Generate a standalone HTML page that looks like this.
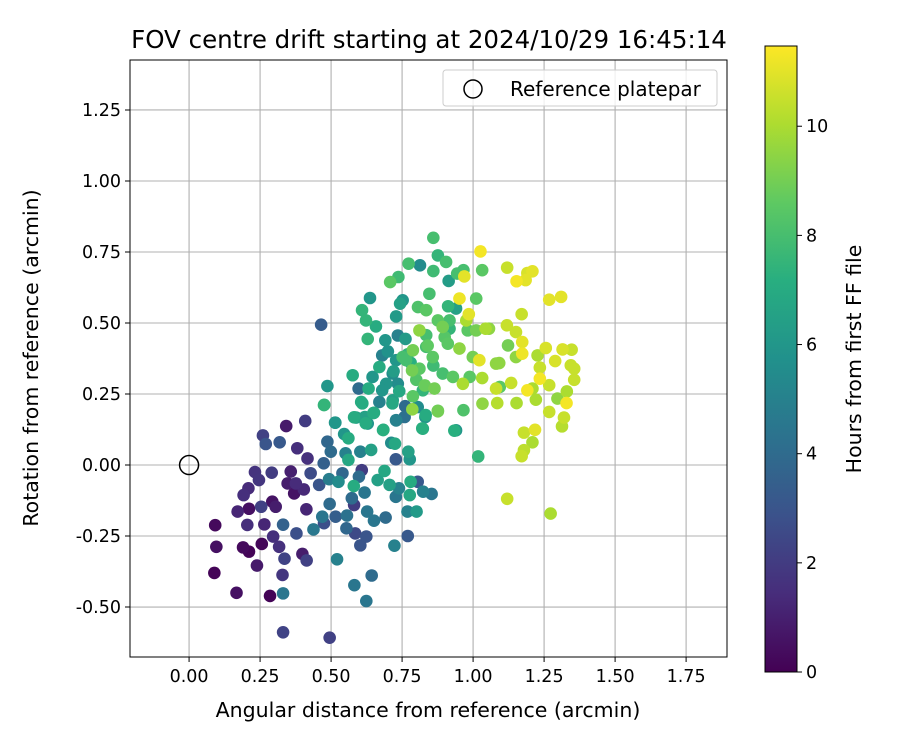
<!DOCTYPE html>
<html><head><meta charset="utf-8"><style>
body{margin:0;background:#fff;}
svg text{font-family:"DejaVu Sans","Liberation Sans",sans-serif;fill:#000;}
</style></head><body>
<svg id="chart" width="900" height="750" viewBox="0 0 900 750" xmlns="http://www.w3.org/2000/svg">
<defs><linearGradient id="vir" x1="0" y1="1" x2="0" y2="0">
<stop offset="0" stop-color="#440154"/><stop offset="0.125" stop-color="#472d7b"/><stop offset="0.25" stop-color="#3b528b"/><stop offset="0.375" stop-color="#2c728e"/><stop offset="0.5" stop-color="#21918c"/><stop offset="0.625" stop-color="#28ae80"/><stop offset="0.75" stop-color="#5ec962"/><stop offset="0.875" stop-color="#addc30"/><stop offset="1" stop-color="#fde725"/></linearGradient></defs>
<text x="429" y="48" text-anchor="middle" font-size="24.5">FOV centre drift starting at 2024/10/29 16:45:14</text>
<g id="grid"></g><g id="points"></g><g id="axes"></g>
<text x="428" y="717" text-anchor="middle" font-size="20.5">Angular distance from reference (arcmin)</text>
<text transform="translate(38,358) rotate(-90)" text-anchor="middle" font-size="20.5">Rotation from reference (arcmin)</text>
<g>
<rect x="443" y="70" width="274" height="36" rx="3" fill="#fff" fill-opacity="0.8" stroke="#ccc"/>
<circle cx="473" cy="89" r="9" fill="none" stroke="#000" stroke-width="1.5"/>
<text x="510" y="96" font-size="20">Reference platepar</text></g>
<rect x="765" y="46" width="32" height="626" fill="url(#vir)" stroke="#000" stroke-width="1"/>
<g id="cbticks"></g>
<text transform="translate(861,359) rotate(-90)" text-anchor="middle" font-size="20.5">Hours from first FF file</text>
</svg>
<script>
const xTicks=[0,0.25,0.5,0.75,1,1.25,1.5,1.75];
const yTicks=[-0.5,-0.25,0,0.25,0.5,0.75,1,1.25];
const cbTicks=[0,2,4,6,8,10];
const xs=[0.092,0.096,0.089,0.167,0.285,0.331,0.331,0.495,0.239,0.329,0.19,0.211,0.256,0.171,0.211,0.205,0.192,0.209,0.232,0.246,0.291,0.254,0.293,0.305,0.265,0.331,0.296,0.317,0.336,0.378,0.399,0.414,0.413,0.358,0.347,0.370,0.376,0.404,0.381,0.417,0.342,0.409,0.260,0.270,0.319,0.428,0.458,0.474,0.487,0.499,0.493,0.526,0.495,0.469,0.438,0.516,0.475,0.556,0.554,0.585,0.603,0.624,0.521,0.582,0.643,0.624,0.540,0.580,0.573,0.581,0.618,0.598,0.608,0.627,0.651,0.692,0.723,0.770,0.664,0.688,0.706,0.728,0.739,0.777,0.780,0.805,0.824,0.854,0.769,0.801,0.728,0.772,0.777,0.725,0.712,0.641,0.603,0.551,0.561,0.561,0.546,0.514,0.475,0.581,0.610,0.651,0.622,0.683,0.729,0.786,0.821,0.833,0.876,0.934,0.716,
0.860,0.876,0.905,0.773,0.813,0.860,0.737,0.708,0.914,0.944,0.966,0.969,1.032,1.026,0.637,0.609,0.752,0.743,0.729,0.846,0.806,0.835,0.912,0.952,0.940,1.011,0.985,0.976,0.917,0.876,0.893,0.811,0.835,0.917,0.981,1.011,1.044,0.623,0.658,0.629,0.691,0.735,0.762,0.680,0.752,0.788,0.835,0.858,0.911,0.952,1.022,0.999,1.081,1.032,1.081,0.988,0.964,0.929,0.893,0.864,0.823,0.811,0.785,0.764,0.729,0.717,0.735,0.694,0.670,0.646,0.632,0.680,0.597,0.576,0.487,0.465,0.788,0.876,0.966,0.940,1.018,0.823,0.832,0.729,0.759,0.684,0.649,0.619,0.629,0.606,0.588,0.515,0.476,0.670,0.717,0.761,0.805,
1.120,1.191,1.209,1.153,1.185,1.268,1.310,1.171,1.119,1.151,1.056,1.173,1.123,1.173,1.256,1.315,1.347,1.227,1.289,1.344,1.356,1.235,1.356,1.235,1.268,1.134,1.094,1.092,1.151,1.191,1.209,1.221,1.297,1.330,1.329,1.153,1.085,1.033,1.268,1.320,1.313,1.179,1.218,1.209,1.179,1.171,1.120,1.273,
0.70,0.72,0.78,0.80,0.84,0.86,0.90,0.74,0.77,0.83];
const ys=[-0.212,-0.288,-0.380,-0.450,-0.461,-0.452,-0.589,-0.608,-0.354,-0.387,-0.290,-0.305,-0.278,-0.164,-0.154,-0.211,-0.106,-0.082,-0.025,-0.053,-0.027,-0.147,-0.129,-0.147,-0.209,-0.210,-0.252,-0.288,-0.330,-0.241,-0.313,-0.336,-0.156,-0.023,-0.065,-0.100,-0.065,-0.086,0.059,0.023,0.137,0.155,0.104,0.074,0.080,-0.029,-0.070,0.006,0.082,0.047,-0.050,-0.059,-0.137,-0.182,-0.227,-0.182,-0.205,-0.178,-0.223,-0.241,-0.283,-0.252,-0.332,-0.423,-0.389,-0.479,-0.029,-0.074,-0.117,-0.141,-0.097,-0.041,-0.018,-0.164,-0.196,-0.185,-0.284,-0.250,-0.053,-0.021,-0.070,-0.112,-0.082,-0.106,-0.059,-0.059,-0.094,-0.102,-0.164,-0.164,0.020,0.047,0.020,0.075,0.078,0.053,0.047,0.041,0.018,0.094,0.109,0.149,0.211,0.168,0.217,0.184,0.147,0.123,0.158,0.196,0.129,0.176,0.191,0.121,0.217,
0.800,0.738,0.715,0.709,0.703,0.683,0.662,0.644,0.648,0.674,0.686,0.664,0.686,0.752,0.588,0.545,0.580,0.568,0.523,0.603,0.556,0.545,0.559,0.586,0.551,0.586,0.531,0.509,0.509,0.509,0.486,0.474,0.457,0.480,0.474,0.474,0.480,0.509,0.488,0.444,0.439,0.456,0.444,0.386,0.380,0.404,0.416,0.380,0.427,0.410,0.369,0.380,0.357,0.306,0.269,0.310,0.286,0.310,0.322,0.269,0.263,0.339,0.333,0.369,0.369,0.322,0.286,0.286,0.345,0.310,0.269,0.263,0.269,0.316,0.278,0.494,0.242,0.189,0.193,0.122,0.030,0.128,0.169,0.157,0.169,0.124,0.183,0.169,0.146,0.222,0.167,0.149,0.212,0.222,0.228,0.207,0.204,
0.695,0.676,0.682,0.647,0.651,0.582,0.592,0.531,0.492,0.468,0.480,0.433,0.421,0.392,0.412,0.407,0.406,0.386,0.366,0.351,0.339,0.343,0.300,0.304,0.281,0.289,0.275,0.359,0.380,0.263,0.269,0.230,0.234,0.259,0.218,0.218,0.218,0.216,0.187,0.167,0.136,0.114,0.124,0.080,0.052,0.031,-0.119,-0.171,
0.40,0.33,0.36,0.30,0.42,0.35,0.45,0.26,0.39,0.28];
const hours=[0.3,0.5,0.1,0.5,0.1,4.5,2.3,2.2,0.8,1.8,0.3,0.1,0.2,1.2,0.5,1.5,1.5,1.4,1.7,1.8,2,2.2,0.6,0.9,1.2,3.6,1.5,1.6,2.3,2.8,0.9,2.2,1.2,1,0.9,0.6,1.4,1.3,1.5,1.6,0.8,2,2.2,3,3.2,2.6,3,3.5,3.8,4,4.8,5.5,4,4.5,4.6,3.4,2.8,4.3,3.8,2.5,3,3,5,4.5,4,4.5,3.8,7,4,2,4.5,4,2,4.5,4.5,4,5,3.2,6.5,6.8,6.5,4.5,5,6.8,7,3.2,5,4.5,5,6.2,3.2,6.5,6,6.8,5.5,6.5,5,5,6.8,7,6,6,7.5,7,7,7,7,7.2,5,9.5,7.2,7,8.8,7.2,6.8,
8,7.5,8,8,5.5,7.8,7.8,8.5,6.3,8,8,11,8.5,11.3,6,7.5,6,6.5,6.2,8,8.2,8.5,7.5,11.2,6.5,8.5,11,10,8,8.5,9,9.5,8,7.5,8.5,9,10,7.5,7,7.5,6,5,6.2,5,8,9,8,8.5,8.5,9.5,11,9,9.5,10,10.5,8.5,10,8.5,8,9,7.5,8.5,9,8,6,5.5,5.5,6,7,6,7,6,4,7,6,3.3,8.5,9,8.2,6,7.5,7,6,5,4.2,7,7,6.5,6,7,6.5,6,7.5,5,6.5,4,5.5,
10.5,10.8,11,11.3,11,11,11,10.5,10.5,10.5,9.5,11,9,11.2,10.8,10.8,10.5,10,10.8,10.5,10.5,10.5,10.5,11.3,10.5,10.5,8.5,9.5,9.5,11.3,10,10,9.5,10,11.3,10,10.2,9.5,10.5,10.5,10.2,10.5,11,10,10.3,10.5,10.5,10,
5.8,6.3,7.2,8.3,8.6,7.8,8.4,6.8,7.5,8.8];
const NS='http://www.w3.org/2000/svg';
const X0=130,X1=727,Y0=60,Y1=657,XMIN=-0.208,XMAX=1.894,YMIN=-0.676,YMAX=1.426,HMAX=11.47;
const sx=v=>X0+(v-XMIN)/(XMAX-XMIN)*(X1-X0);
const sy=v=>Y1-(v-YMIN)/(YMAX-YMIN)*(Y1-Y0);
const sc=h=>672-h/HMAX*626;
const vir=[[68,1,84],[71,45,123],[59,82,139],[44,114,142],[33,145,140],[40,174,128],[94,201,98],[173,220,48],[253,231,37]];
function col(h){let t=Math.max(0,Math.min(1,h/HMAX))*8,i=Math.min(7,Math.floor(t)),f=t-i,a=vir[i],b=vir[i+1];return 'rgb('+a.map((c,k)=>Math.round(c+(b[k]-c)*f)).join(',')+')';}
function mk(tag,at,parent){const e=document.createElementNS(NS,tag);for(const k in at)e.setAttribute(k,at[k]);parent.appendChild(e);return e;}
const grid=document.getElementById('grid'),axes=document.getElementById('axes'),pts=document.getElementById('points'),cbt=document.getElementById('cbticks');
xTicks.forEach(v=>{const x=sx(v);
const g=mk('line',{x1:x,x2:x,y1:Y0,y2:Y1,stroke:'#b0b0b0','stroke-width':1.1},grid);


mk('line',{x1:x,x2:x,y1:Y1,y2:Y1+5,stroke:'#000'},axes);
const t=mk('text',{x:x,y:Y1+25,'text-anchor':'middle','font-size':17.5},axes);t.textContent=v.toFixed(2);

});
yTicks.forEach(v=>{const y=sy(v);
const g=mk('line',{x1:X0,x2:X1,y1:y,y2:y,stroke:'#b0b0b0','stroke-width':1.1},grid);


mk('line',{x1:X0-5,x2:X0,y1:y,y2:y,stroke:'#000'},axes);
const t=mk('text',{x:X0-9,y:y+6,'text-anchor':'end','font-size':17.5},axes);t.textContent=v.toFixed(2);

});
const fr=mk('rect',{x:X0,y:Y0,width:X1-X0,height:Y1-Y0,fill:'none',stroke:'#000','stroke-width':1},axes);


const idx=hours.map((h,i)=>i).sort((a,b)=>hours[a]-hours[b]);
idx.forEach(i=>{const c=mk('circle',{cx:sx(xs[i]),cy:sy(ys[i]),r:6.3,fill:col(hours[i])},pts);

});
const ref=mk('circle',{cx:sx(0),cy:sy(0),r:9.5,fill:'none',stroke:'#000','stroke-width':1.5},pts);


cbTicks.forEach(v=>{const y=sc(v);
mk('line',{x1:797,x2:802,y1:y,y2:y,stroke:'#000'},cbt);
const t=mk('text',{x:806,y:y+6,'font-size':17.5},cbt);t.textContent=String(v);

});
</script>
</body></html>
